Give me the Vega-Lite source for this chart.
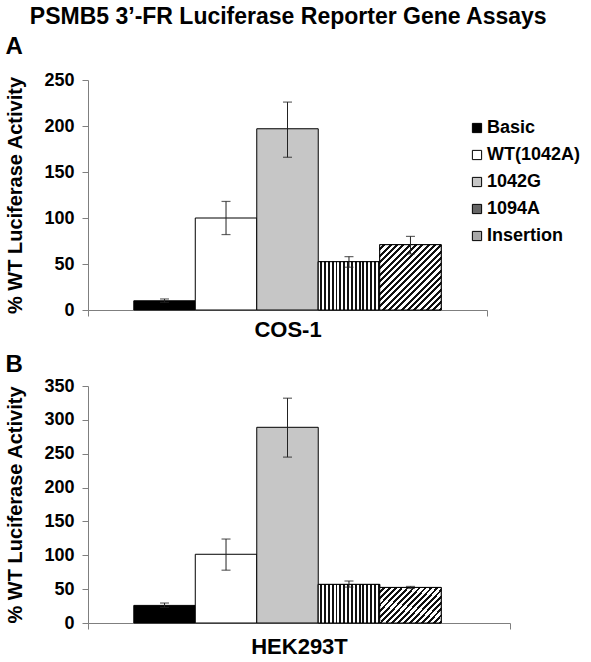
{
 "$schema": "https://vega.github.io/schema/vega-lite/v6.json",
 "padding": {"left": 5, "top": 6, "right": 5, "bottom": 2},
 "background": "white",
 "config": {
  "font": "Liberation Sans",
  "view": {"stroke": null},
  "axis": {"labelFont": "Liberation Sans", "labelFontWeight": "bold", "labelColor": "#000", "titleFont": "Liberation Sans", "titleFontWeight": "bold", "titleColor": "#000", "domainColor": "#7f7f7f", "tickColor": "#7f7f7f", "grid": false, "labelOverlap": false},
  "title": {"font": "Liberation Sans", "fontWeight": "bold", "color": "#000"}
 },
 "title": {"text": "PSMB5 3’-FR Luciferase Reporter Gene Assays", "fontSize": 23, "anchor": "middle", "offset": 6, "dx": -5},
 "datasets": {
  "cos": [
   {"cell": "COS-1", "series": "Basic", "value": 10, "lo": 8.3, "hi": 12},
   {"cell": "COS-1", "series": "WT(1042A)", "value": 100, "lo": 82, "hi": 118},
   {"cell": "COS-1", "series": "1042G", "value": 197, "lo": 166, "hi": 226},
   {"cell": "COS-1", "series": "1094A", "value": 52.5, "lo": 46.5, "hi": 58},
   {"cell": "COS-1", "series": "Insertion", "value": 71, "lo": 61, "hi": 80}
  ],
  "hek": [
   {"cell": "HEK293T", "series": "Basic", "value": 26, "lo": 23, "hi": 29.5},
   {"cell": "HEK293T", "series": "WT(1042A)", "value": 101.5, "lo": 78, "hi": 124},
   {"cell": "HEK293T", "series": "1042G", "value": 289, "lo": 245, "hi": 332},
   {"cell": "HEK293T", "series": "1094A", "value": 57, "lo": 53, "hi": 62},
   {"cell": "HEK293T", "series": "Insertion", "value": 52.5, "lo": 51, "hi": 54}
  ]
 },
 "vconcat": [
  {
   "title": {"text": "A", "fontSize": 24, "anchor": "start", "offset": 12},
   "width": 399,
   "height": 230,
   "data": {"name": "cos"},
   "encoding": {
    "x": {"field": "cell", "type": "nominal", "scale": {"paddingInner": 0, "paddingOuter": 0}, "axis": {"title": null, "labelAngle": 0, "labelFontSize": 22, "tickBand": "extent", "tickSize": 6, "labelPadding": 3}},
    "xOffset": {"field": "series", "type": "nominal", "sort": ["Basic", "WT(1042A)", "1042G", "1094A", "Insertion"], "scale": {"paddingInner": 0, "paddingOuter": 0.745}}
   },
   "layer": [
    {
     "mark": {"type": "bar", "stroke": "#000", "strokeWidth": 1},
     "encoding": {
      "y": {"field": "value", "type": "quantitative", "scale": {"domain": [0, 250], "nice": false}, "axis": {"values": [0, 50, 100, 150, 200, 250], "title": "% WT Luciferase Activity", "titleFontSize": 20, "labelFontSize": 18, "tickSize": 6, "labelPadding": 8, "titlePadding": 18.5}},
      "fill": {"field": "series", "type": "nominal", "scale": {"domain": ["Basic", "WT(1042A)", "1042G", "1094A", "Insertion"], "range": ["#000000", "#ffffff", "#c6c6c6", "#666666", "#a8a8a8"]}, "legend": {"orient": "none", "legendX": 380, "legendY": 39, "title": null, "labelFontSize": 18, "labelFontWeight": "bold", "labelColor": "#000", "labelFont": "Liberation Sans", "symbolType": "square", "symbolSize": 85, "symbolStrokeColor": "#000", "symbolStrokeWidth": 1, "rowPadding": 9, "labelOffset": 1}}
     }
    },
    {
     "transform": [{"filter": "datum.series === '1094A'"}],
     "mark": {"type": "bar", "stroke": "#000", "strokeWidth": 1, "fill": {"gradient": "linear", "x1": 0, "y1": 0, "x2": 1, "y2": 0, "stops": [
        {"offset":0,"color":"#fff"},{"offset":0.032,"color":"#fff"},{"offset":0.032,"color":"#111"},{"offset":0.0625,"color":"#111"},
        {"offset":0.0625,"color":"#fff"},{"offset":0.0945,"color":"#fff"},{"offset":0.0945,"color":"#111"},{"offset":0.125,"color":"#111"},
        {"offset":0.125,"color":"#fff"},{"offset":0.157,"color":"#fff"},{"offset":0.157,"color":"#111"},{"offset":0.1875,"color":"#111"},
        {"offset":0.1875,"color":"#fff"},{"offset":0.2195,"color":"#fff"},{"offset":0.2195,"color":"#111"},{"offset":0.25,"color":"#111"},
        {"offset":0.25,"color":"#fff"},{"offset":0.282,"color":"#fff"},{"offset":0.282,"color":"#111"},{"offset":0.3125,"color":"#111"},
        {"offset":0.3125,"color":"#fff"},{"offset":0.3445,"color":"#fff"},{"offset":0.3445,"color":"#111"},{"offset":0.375,"color":"#111"},
        {"offset":0.375,"color":"#fff"},{"offset":0.407,"color":"#fff"},{"offset":0.407,"color":"#111"},{"offset":0.4375,"color":"#111"},
        {"offset":0.4375,"color":"#fff"},{"offset":0.4695,"color":"#fff"},{"offset":0.4695,"color":"#111"},{"offset":0.5,"color":"#111"},
        {"offset":0.5,"color":"#fff"},{"offset":0.532,"color":"#fff"},{"offset":0.532,"color":"#111"},{"offset":0.5625,"color":"#111"},
        {"offset":0.5625,"color":"#fff"},{"offset":0.5945,"color":"#fff"},{"offset":0.5945,"color":"#111"},{"offset":0.625,"color":"#111"},
        {"offset":0.625,"color":"#fff"},{"offset":0.657,"color":"#fff"},{"offset":0.657,"color":"#111"},{"offset":0.6875,"color":"#111"},
        {"offset":0.6875,"color":"#fff"},{"offset":0.7195,"color":"#fff"},{"offset":0.7195,"color":"#111"},{"offset":0.75,"color":"#111"},
        {"offset":0.75,"color":"#fff"},{"offset":0.782,"color":"#fff"},{"offset":0.782,"color":"#111"},{"offset":0.8125,"color":"#111"},
        {"offset":0.8125,"color":"#fff"},{"offset":0.8445,"color":"#fff"},{"offset":0.8445,"color":"#111"},{"offset":0.875,"color":"#111"},
        {"offset":0.875,"color":"#fff"},{"offset":0.907,"color":"#fff"},{"offset":0.907,"color":"#111"},{"offset":0.9375,"color":"#111"},
        {"offset":0.9375,"color":"#fff"},{"offset":0.9695,"color":"#fff"},{"offset":0.9695,"color":"#111"},{"offset":1,"color":"#111"}
       ]}},
     "encoding": {"y": {"field": "value", "type": "quantitative", "axis": {"values": [0, 50, 100, 150, 200, 250], "title": "% WT Luciferase Activity", "titleFontSize": 20, "labelFontSize": 18, "tickSize": 6, "labelPadding": 8, "titlePadding": 18.5}}}
    },
    {
     "transform": [{"filter": "datum.series === 'Insertion'"}],
     "mark": {"type": "bar", "stroke": "#000", "strokeWidth": 1, "fill": {"gradient": "linear", "x1": 0, "y1": 0, "x2": 0.968, "y2": 1.03, "stops": [
        {"offset":0,"color":"#fff"},{"offset":0.027,"color":"#fff"},{"offset":0.027,"color":"#111"},{"offset":0.05,"color":"#111"},
        {"offset":0.05,"color":"#fff"},{"offset":0.077,"color":"#fff"},{"offset":0.077,"color":"#111"},{"offset":0.1,"color":"#111"},
        {"offset":0.1,"color":"#fff"},{"offset":0.127,"color":"#fff"},{"offset":0.127,"color":"#111"},{"offset":0.15,"color":"#111"},
        {"offset":0.15,"color":"#fff"},{"offset":0.177,"color":"#fff"},{"offset":0.177,"color":"#111"},{"offset":0.2,"color":"#111"},
        {"offset":0.2,"color":"#fff"},{"offset":0.227,"color":"#fff"},{"offset":0.227,"color":"#111"},{"offset":0.25,"color":"#111"},
        {"offset":0.25,"color":"#fff"},{"offset":0.277,"color":"#fff"},{"offset":0.277,"color":"#111"},{"offset":0.3,"color":"#111"},
        {"offset":0.3,"color":"#fff"},{"offset":0.327,"color":"#fff"},{"offset":0.327,"color":"#111"},{"offset":0.35,"color":"#111"},
        {"offset":0.35,"color":"#fff"},{"offset":0.377,"color":"#fff"},{"offset":0.377,"color":"#111"},{"offset":0.4,"color":"#111"},
        {"offset":0.4,"color":"#fff"},{"offset":0.427,"color":"#fff"},{"offset":0.427,"color":"#111"},{"offset":0.45,"color":"#111"},
        {"offset":0.45,"color":"#fff"},{"offset":0.477,"color":"#fff"},{"offset":0.477,"color":"#111"},{"offset":0.5,"color":"#111"},
        {"offset":0.5,"color":"#fff"},{"offset":0.527,"color":"#fff"},{"offset":0.527,"color":"#111"},{"offset":0.55,"color":"#111"},
        {"offset":0.55,"color":"#fff"},{"offset":0.577,"color":"#fff"},{"offset":0.577,"color":"#111"},{"offset":0.6,"color":"#111"},
        {"offset":0.6,"color":"#fff"},{"offset":0.627,"color":"#fff"},{"offset":0.627,"color":"#111"},{"offset":0.65,"color":"#111"},
        {"offset":0.65,"color":"#fff"},{"offset":0.677,"color":"#fff"},{"offset":0.677,"color":"#111"},{"offset":0.7,"color":"#111"},
        {"offset":0.7,"color":"#fff"},{"offset":0.727,"color":"#fff"},{"offset":0.727,"color":"#111"},{"offset":0.75,"color":"#111"},
        {"offset":0.75,"color":"#fff"},{"offset":0.777,"color":"#fff"},{"offset":0.777,"color":"#111"},{"offset":0.8,"color":"#111"},
        {"offset":0.8,"color":"#fff"},{"offset":0.827,"color":"#fff"},{"offset":0.827,"color":"#111"},{"offset":0.85,"color":"#111"},
        {"offset":0.85,"color":"#fff"},{"offset":0.877,"color":"#fff"},{"offset":0.877,"color":"#111"},{"offset":0.9,"color":"#111"},
        {"offset":0.9,"color":"#fff"},{"offset":0.927,"color":"#fff"},{"offset":0.927,"color":"#111"},{"offset":0.95,"color":"#111"},
        {"offset":0.95,"color":"#fff"},{"offset":0.977,"color":"#fff"},{"offset":0.977,"color":"#111"},{"offset":1,"color":"#111"}
       ]}},
     "encoding": {"y": {"field": "value", "type": "quantitative", "axis": {"values": [0, 50, 100, 150, 200, 250], "title": "% WT Luciferase Activity", "titleFontSize": 20, "labelFontSize": 18, "tickSize": 6, "labelPadding": 8, "titlePadding": 18.5}}}
    },
    {
     "mark": {"type": "rule", "color": "#222", "strokeWidth": 1},
     "encoding": {"y": {"field": "lo", "type": "quantitative", "axis": {"values": [0, 50, 100, 150, 200, 250], "title": "% WT Luciferase Activity", "titleFontSize": 20, "labelFontSize": 18, "tickSize": 6, "labelPadding": 8, "titlePadding": 18.5}}, "y2": {"field": "hi"}}
    },
    {
     "mark": {"type": "tick", "color": "#222", "thickness": 1.2, "size": 9, "orient": "horizontal"},
     "encoding": {"y": {"field": "hi", "type": "quantitative", "axis": {"values": [0, 50, 100, 150, 200, 250], "title": "% WT Luciferase Activity", "titleFontSize": 20, "labelFontSize": 18, "tickSize": 6, "labelPadding": 8, "titlePadding": 18.5}}}
    },
    {
     "mark": {"type": "tick", "color": "#222", "thickness": 1.2, "size": 9, "orient": "horizontal"},
     "encoding": {"y": {"field": "lo", "type": "quantitative", "axis": {"values": [0, 50, 100, 150, 200, 250], "title": "% WT Luciferase Activity", "titleFontSize": 20, "labelFontSize": 18, "tickSize": 6, "labelPadding": 8, "titlePadding": 18.5}}}
    }
   ]
  },
  {
   "title": {"text": "B", "fontSize": 24, "anchor": "start", "offset": 0},
   "width": 422,
   "height": 237,
   "data": {"name": "hek"},
   "encoding": {
    "x": {"field": "cell", "type": "nominal", "scale": {"paddingInner": 0, "paddingOuter": 0}, "axis": {"title": null, "labelAngle": 0, "labelFontSize": 22, "tickBand": "extent", "tickSize": 6, "labelPadding": 7}},
    "xOffset": {"field": "series", "type": "nominal", "sort": ["Basic", "WT(1042A)", "1042G", "1094A", "Insertion"], "scale": {"paddingInner": 0, "paddingOuter": 0.745}}
   },
   "layer": [
    {
     "mark": {"type": "bar", "stroke": "#000", "strokeWidth": 1},
     "encoding": {
      "y": {"field": "value", "type": "quantitative", "scale": {"domain": [0, 350], "nice": false}, "axis": {"values": [0, 50, 100, 150, 200, 250, 300, 350], "title": "% WT Luciferase Activity", "titleFontSize": 20, "labelFontSize": 18, "tickSize": 6, "labelPadding": 8, "titlePadding": 18.5}},
      "fill": {"field": "series", "type": "nominal", "scale": {"domain": ["Basic", "WT(1042A)", "1042G", "1094A", "Insertion"], "range": ["#000000", "#ffffff", "#c6c6c6", "#666666", "#a8a8a8"]}, "legend": null}
     }
    },
    {
     "transform": [{"filter": "datum.series === '1094A'"}],
     "mark": {"type": "bar", "stroke": "#000", "strokeWidth": 1, "fill": {"gradient": "linear", "x1": 0, "y1": 0, "x2": 1, "y2": 0, "stops": [
        {"offset":0,"color":"#fff"},{"offset":0.032,"color":"#fff"},{"offset":0.032,"color":"#111"},{"offset":0.0625,"color":"#111"},
        {"offset":0.0625,"color":"#fff"},{"offset":0.0945,"color":"#fff"},{"offset":0.0945,"color":"#111"},{"offset":0.125,"color":"#111"},
        {"offset":0.125,"color":"#fff"},{"offset":0.157,"color":"#fff"},{"offset":0.157,"color":"#111"},{"offset":0.1875,"color":"#111"},
        {"offset":0.1875,"color":"#fff"},{"offset":0.2195,"color":"#fff"},{"offset":0.2195,"color":"#111"},{"offset":0.25,"color":"#111"},
        {"offset":0.25,"color":"#fff"},{"offset":0.282,"color":"#fff"},{"offset":0.282,"color":"#111"},{"offset":0.3125,"color":"#111"},
        {"offset":0.3125,"color":"#fff"},{"offset":0.3445,"color":"#fff"},{"offset":0.3445,"color":"#111"},{"offset":0.375,"color":"#111"},
        {"offset":0.375,"color":"#fff"},{"offset":0.407,"color":"#fff"},{"offset":0.407,"color":"#111"},{"offset":0.4375,"color":"#111"},
        {"offset":0.4375,"color":"#fff"},{"offset":0.4695,"color":"#fff"},{"offset":0.4695,"color":"#111"},{"offset":0.5,"color":"#111"},
        {"offset":0.5,"color":"#fff"},{"offset":0.532,"color":"#fff"},{"offset":0.532,"color":"#111"},{"offset":0.5625,"color":"#111"},
        {"offset":0.5625,"color":"#fff"},{"offset":0.5945,"color":"#fff"},{"offset":0.5945,"color":"#111"},{"offset":0.625,"color":"#111"},
        {"offset":0.625,"color":"#fff"},{"offset":0.657,"color":"#fff"},{"offset":0.657,"color":"#111"},{"offset":0.6875,"color":"#111"},
        {"offset":0.6875,"color":"#fff"},{"offset":0.7195,"color":"#fff"},{"offset":0.7195,"color":"#111"},{"offset":0.75,"color":"#111"},
        {"offset":0.75,"color":"#fff"},{"offset":0.782,"color":"#fff"},{"offset":0.782,"color":"#111"},{"offset":0.8125,"color":"#111"},
        {"offset":0.8125,"color":"#fff"},{"offset":0.8445,"color":"#fff"},{"offset":0.8445,"color":"#111"},{"offset":0.875,"color":"#111"},
        {"offset":0.875,"color":"#fff"},{"offset":0.907,"color":"#fff"},{"offset":0.907,"color":"#111"},{"offset":0.9375,"color":"#111"},
        {"offset":0.9375,"color":"#fff"},{"offset":0.9695,"color":"#fff"},{"offset":0.9695,"color":"#111"},{"offset":1,"color":"#111"}
       ]}},
     "encoding": {"y": {"field": "value", "type": "quantitative", "axis": {"values": [0, 50, 100, 150, 200, 250, 300, 350], "title": "% WT Luciferase Activity", "titleFontSize": 20, "labelFontSize": 18, "tickSize": 6, "labelPadding": 8, "titlePadding": 18.5}}}
    },
    {
     "transform": [{"filter": "datum.series === 'Insertion'"}],
     "mark": {"type": "bar", "stroke": "#000", "strokeWidth": 1, "fill": {"gradient": "linear", "x1": 0, "y1": 0, "x2": 1.191, "y2": 0.65, "stops": [
        {"offset":0,"color":"#fff"},{"offset":0.034,"color":"#fff"},{"offset":0.034,"color":"#111"},{"offset":0.0625,"color":"#111"},
        {"offset":0.0625,"color":"#fff"},{"offset":0.0965,"color":"#fff"},{"offset":0.0965,"color":"#111"},{"offset":0.125,"color":"#111"},
        {"offset":0.125,"color":"#fff"},{"offset":0.159,"color":"#fff"},{"offset":0.159,"color":"#111"},{"offset":0.1875,"color":"#111"},
        {"offset":0.1875,"color":"#fff"},{"offset":0.2215,"color":"#fff"},{"offset":0.2215,"color":"#111"},{"offset":0.25,"color":"#111"},
        {"offset":0.25,"color":"#fff"},{"offset":0.284,"color":"#fff"},{"offset":0.284,"color":"#111"},{"offset":0.3125,"color":"#111"},
        {"offset":0.3125,"color":"#fff"},{"offset":0.3465,"color":"#fff"},{"offset":0.3465,"color":"#111"},{"offset":0.375,"color":"#111"},
        {"offset":0.375,"color":"#fff"},{"offset":0.409,"color":"#fff"},{"offset":0.409,"color":"#111"},{"offset":0.4375,"color":"#111"},
        {"offset":0.4375,"color":"#fff"},{"offset":0.4715,"color":"#fff"},{"offset":0.4715,"color":"#111"},{"offset":0.5,"color":"#111"},
        {"offset":0.5,"color":"#fff"},{"offset":0.534,"color":"#fff"},{"offset":0.534,"color":"#111"},{"offset":0.5625,"color":"#111"},
        {"offset":0.5625,"color":"#fff"},{"offset":0.5965,"color":"#fff"},{"offset":0.5965,"color":"#111"},{"offset":0.625,"color":"#111"},
        {"offset":0.625,"color":"#fff"},{"offset":0.659,"color":"#fff"},{"offset":0.659,"color":"#111"},{"offset":0.6875,"color":"#111"},
        {"offset":0.6875,"color":"#fff"},{"offset":0.7215,"color":"#fff"},{"offset":0.7215,"color":"#111"},{"offset":0.75,"color":"#111"},
        {"offset":0.75,"color":"#fff"},{"offset":0.784,"color":"#fff"},{"offset":0.784,"color":"#111"},{"offset":0.8125,"color":"#111"},
        {"offset":0.8125,"color":"#fff"},{"offset":0.8465,"color":"#fff"},{"offset":0.8465,"color":"#111"},{"offset":0.875,"color":"#111"},
        {"offset":0.875,"color":"#fff"},{"offset":0.909,"color":"#fff"},{"offset":0.909,"color":"#111"},{"offset":0.9375,"color":"#111"},
        {"offset":0.9375,"color":"#fff"},{"offset":0.9715,"color":"#fff"},{"offset":0.9715,"color":"#111"},{"offset":1,"color":"#111"}
       ]}},
     "encoding": {"y": {"field": "value", "type": "quantitative", "axis": {"values": [0, 50, 100, 150, 200, 250, 300, 350], "title": "% WT Luciferase Activity", "titleFontSize": 20, "labelFontSize": 18, "tickSize": 6, "labelPadding": 8, "titlePadding": 18.5}}}
    },
    {
     "mark": {"type": "rule", "color": "#222", "strokeWidth": 1},
     "encoding": {"y": {"field": "lo", "type": "quantitative", "axis": {"values": [0, 50, 100, 150, 200, 250, 300, 350], "title": "% WT Luciferase Activity", "titleFontSize": 20, "labelFontSize": 18, "tickSize": 6, "labelPadding": 8, "titlePadding": 18.5}}, "y2": {"field": "hi"}}
    },
    {
     "mark": {"type": "tick", "color": "#222", "thickness": 1.2, "size": 9, "orient": "horizontal"},
     "encoding": {"y": {"field": "hi", "type": "quantitative", "axis": {"values": [0, 50, 100, 150, 200, 250, 300, 350], "title": "% WT Luciferase Activity", "titleFontSize": 20, "labelFontSize": 18, "tickSize": 6, "labelPadding": 8, "titlePadding": 18.5}}}
    },
    {
     "mark": {"type": "tick", "color": "#222", "thickness": 1.2, "size": 9, "orient": "horizontal"},
     "encoding": {"y": {"field": "lo", "type": "quantitative", "axis": {"values": [0, 50, 100, 150, 200, 250, 300, 350], "title": "% WT Luciferase Activity", "titleFontSize": 20, "labelFontSize": 18, "tickSize": 6, "labelPadding": 8, "titlePadding": 18.5}}}
    }
   ]
  }
 ],
 "spacing": 13,
 "resolve": {"scale": {"fill": "independent"}, "legend": {"fill": "independent"}}
}
